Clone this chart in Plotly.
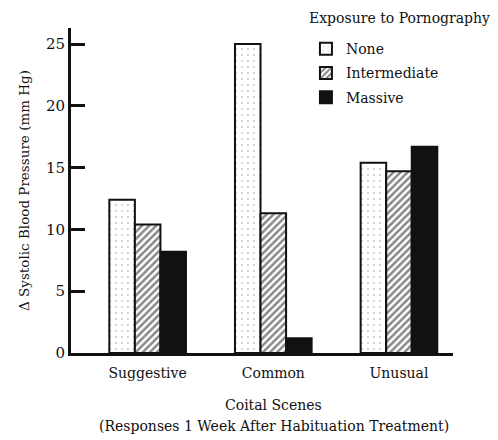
import plotly.graph_objects as go

# ---------------------------------------------------------------------
# Data
# ---------------------------------------------------------------------
SCENES = ["Suggestive", "Common", "Unusual"]
NONE_BP = [12.4, 25.0, 15.4]
INTERMEDIATE_BP = [10.4, 11.3, 14.7]
MASSIVE_BP = [8.2, 1.2, 16.7]

Y_TICKS = [0, 5, 10, 15, 20, 25]

FONT = "DejaVu Serif, Liberation Serif, serif"
INK = "#111111"

fig = go.Figure()

fig.add_trace(go.Bar(
    x=SCENES, y=NONE_BP, name="None", legendgroup="a",
    marker=dict(
        color="white",
        line=dict(color=INK, width=2),
        pattern=dict(shape=".", size=6, solidity=0.08, fgcolor="#8a8a8a", bgcolor="white"),
    ),
))
fig.add_trace(go.Bar(
    x=SCENES, y=INTERMEDIATE_BP, name="Intermediate", legendgroup="b",
    marker=dict(
        color="white",
        line=dict(color=INK, width=2),
        pattern=dict(shape="/", size=5, solidity=0.5, fgcolor=INK, bgcolor="white"),
    ),
))
fig.add_trace(go.Bar(
    x=SCENES, y=MASSIVE_BP, name="Massive", legendgroup="c",
    marker=dict(color=INK, line=dict(color=INK, width=2)),
))

# page body has an 8px margin, so the figure is sized 8px smaller
fig.update_layout(
    width=490, height=432,
    barmode="group", bargap=0.39, bargroupgap=0,
    paper_bgcolor="white", plot_bgcolor="white",
    font=dict(family=FONT, color=INK, size=14),
    margin=dict(l=63, r=45, t=20, b=87),
    showlegend=True,
    legend=dict(
        x=0.615, xanchor="left", y=0.984, yanchor="top",
        font=dict(size=14), bgcolor="rgba(0,0,0,0)",
        traceorder="grouped", tracegroupgap=3,
    ),
    annotations=[
        dict(text="Exposure to Pornography", xref="paper", yref="paper",
             x=0.618, y=1.031, xanchor="left", yanchor="middle",
             showarrow=False, font=dict(size=14)),
        dict(text="Coital Scenes", xref="paper", yref="paper",
             x=0.531, y=0, yshift=-52, xanchor="center", yanchor="middle",
             showarrow=False, font=dict(size=14)),
        dict(text="(Responses 1 Week After Habituation Treatment)", xref="paper", yref="paper",
             x=0.531, y=0, yshift=-73, xanchor="center", yanchor="middle",
             showarrow=False, font=dict(size=14)),
    ],
)

fig.update_xaxes(
    range=[-0.61, 2.43],
    showline=True, linecolor=INK, linewidth=3,
    ticks="", showgrid=False, zeroline=False, automargin=False,
    tickfont=dict(size=14), ticklabelstandoff=5,
)
fig.update_yaxes(
    range=[0, 26.3],
    tickvals=Y_TICKS,
    showline=True, linecolor=INK, linewidth=3,
    ticks="inside", ticklen=14, tickwidth=3, tickcolor=INK,
    showgrid=False, zeroline=False, automargin=False,
    tickfont=dict(size=15),
    title=dict(text="Δ Systolic Blood Pressure (mm Hg)", font=dict(size=13.5), standoff=14),
)

fig.write_html("out.html")
